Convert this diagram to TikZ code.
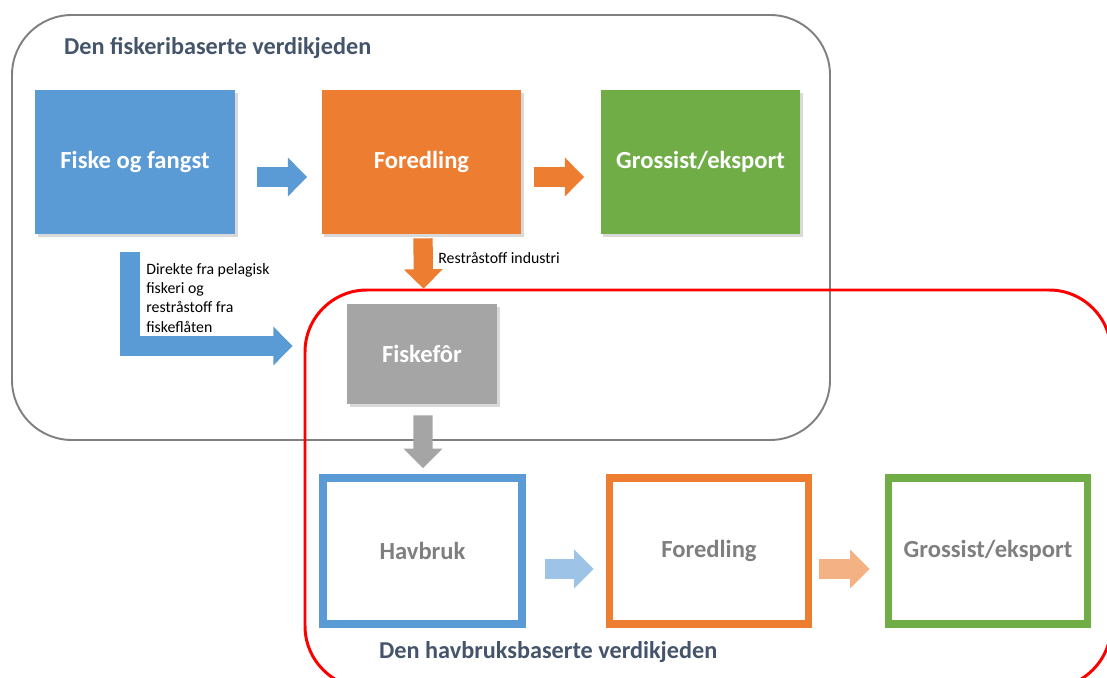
\documentclass[tikz,border=0pt]{standalone}
\usepackage{fontspec}
\setmainfont{Carlito}
\usetikzlibrary{arrows.meta,calc,shadows}

\definecolor{blaa}{HTML}{5B9BD5}
\definecolor{oransje}{HTML}{ED7D31}
\definecolor{groenn}{HTML}{70AD47}
\definecolor{graa}{HTML}{A5A5A5}
\definecolor{lysblaa}{HTML}{9DC3E6}
\definecolor{lysoransje}{HTML}{F4B183}
\definecolor{tittelfarge}{HTML}{44546A}
\definecolor{tekstgraa}{HTML}{7F7F7F}
\definecolor{kantgraa}{HTML}{808080}

\tikzset{
  fylt/.style={minimum width=4cm, minimum height=2.88cm, text=white,
    font=\bfseries\fontsize{14}{16}\selectfont,
    drop shadow={shadow xshift=1.5pt, shadow yshift=-1.5pt, opacity=.3}},
  ramme/.style={draw, line width=4.5pt, minimum width=3.98cm, minimum height=2.92cm,
    text=tekstgraa, font=\bfseries\fontsize{14}{16}\selectfont},
  blokkpil/.style={line width=11pt, -{Triangle[length=11pt,width=21.5pt]}},
  tittel/.style={text=tittelfarge, font=\bfseries\fontsize{13.8}{16}\selectfont},
  liten/.style={font=\fontsize{9}{11}\selectfont, align=left, inner sep=0pt}
}

\begin{document}
\begin{tikzpicture}[x=0.02cm,y=-0.02cm]
\useasboundingbox (0,0) rectangle (1107,678);
\clip (0,0) rectangle (1107,678);

% de to verdikjedene
\draw[kantgraa, line width=1.1pt, rounded corners=1.2cm] (12,15) rectangle (830,440);
\draw[red, line width=1.7pt, rounded corners=1.24cm] (305,290) rectangle (1111,688);
\node[tittel, anchor=west] (tittel1) at (58,48) {Den fiskeribaserte verdikjeden};
\node[tittel, anchor=west] (tittel2) at (373,652) {Den havbruksbaserte verdikjeden};

% fiskeribasert
\node[fylt, fill=blaa] (fiske) at (135,162) {Fiske og fangst};
\node[fylt, fill=oransje] (foredling) at (421.5,162) {Foredling};
\node[fylt, fill=groenn] (grossist) at (700.5,162) {Grossist/eksport};
\node[fylt, fill=graa, minimum width=3cm, minimum height=2cm] (fiskefor) at (422,354) {Fiskefôr};

\draw[blokkpil, blaa] ($(fiske.east)+(22,15)$) -- ($(foredling.west)+(-14,15)$);
\draw[blokkpil, oransje] ($(foredling.east)+(12,15)$) -- ($(grossist.west)+(-16,15)$);
\draw[blokkpil, oransje] ($(foredling.south)+(1.5,4)$) -- ($(fiskefor.north)+(1.5,-15)$);
\draw[blokkpil, blaa] ($(fiske.south)+(-5,18)$) |- ($(fiskefor.west)+(-54,-8)$);

\node[liten, anchor=north west] (direkte) at (146,263)
  {Direkte fra pelagisk\\fiskeri og\\restråstoff fra\\fiskeflåten};
\node[liten, anchor=west] (industri) at (438,258) {Restråstoff industri};

% havbruksbasert
\node[ramme, draw=blaa] (havbruk) at (422.5,551) {Havbruk};
\node[ramme, draw=oransje] (foredling2) at (709,551) {Foredling};
\node[ramme, draw=groenn] (grossist2) at (988,551) {Grossist/eksport};

\draw[blokkpil, graa] ($(fiskefor.south)+(1,11)$) -- ($(havbruk.north)+(0.5,-6)$);
\draw[blokkpil, lysblaa] ($(havbruk.east)+(19,18)$) -- ($(foredling2.west)+(-12,18)$);
\draw[blokkpil, lysoransje] ($(foredling2.east)+(7,18)$) -- ($(grossist2.west)+(-15,18)$);

\end{tikzpicture}
\end{document}
